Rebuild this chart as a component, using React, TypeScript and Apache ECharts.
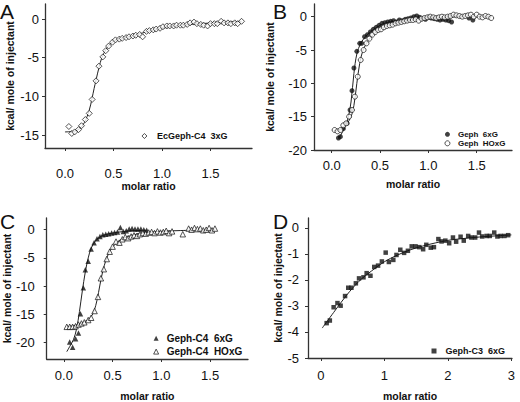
import React, { useEffect, useRef } from "react";
import * as echarts from "echarts";

// ---------- Panel A ----------
const aX = [0.04,0.07,0.10,0.14,0.17,0.21,0.25,0.28,0.32,0.35,0.39,0.42,0.45,0.49,0.52,0.56,0.59,0.63,0.66,0.70,0.73,0.77,0.80,0.84,0.87,0.91,0.94,0.98,1.01,1.05,1.08,1.12,1.15,1.19,1.22,1.26,1.29,1.33,1.36,1.40,1.43,1.47,1.50,1.54,1.57,1.61,1.64,1.68,1.71,1.75,1.78,1.82];
const aY = [-13.9,-14.8,-14.6,-14.3,-13.8,-13.0,-12.2,-10.4,-8.0,-6.1,-4.9,-4.1,-3.5,-3.0,-2.7,-2.6,-2.5,-2.4,-2.3,-2.2,-2.1,-2.0,-2.3,-1.6,-1.5,-1.4,-1.3,-1.2,-1.0,-0.9,-0.9,-0.9,-0.8,-0.8,-0.8,-0.7,-0.5,-0.4,-0.6,-0.7,-0.8,-0.9,-0.6,-0.6,-0.6,-0.3,-0.5,-0.5,-0.6,-0.5,-0.6,-0.3];
const aFitX = [0.0,0.1,0.15,0.2,0.25,0.28,0.3,0.32,0.35,0.38,0.42,0.46,0.5,0.55,0.6,0.7,0.8,1.0,1.2,1.4,1.6,1.82];
const aFitY = [-14.6,-14.5,-14.2,-13.4,-11.8,-10.2,-9.0,-7.9,-6.3,-5.0,-4.0,-3.3,-2.9,-2.6,-2.45,-2.2,-1.8,-1.2,-0.8,-0.6,-0.45,-0.3];

// ---------- Panel B ----------
const b1X = [0.07,0.09,0.12,0.16,0.19,0.21,0.23,0.26,0.29,0.31,0.34,0.37,0.40,0.43,0.46,0.49,0.52,0.55,0.58,0.61,0.64,0.67,0.70,0.73,0.76,0.79,0.82,0.85,0.88,0.91,0.94,0.97,1.00,1.03,1.06,1.09,1.12,1.15,1.18,1.21,1.24,1.42,1.46];
const b1Y = [-18.2,-18.0,-16.8,-16.0,-14.0,-11.1,-7.7,-5.2,-4.0,-4.0,-3.0,-2.7,-2.3,-1.9,-1.6,-1.3,-1.0,-0.9,-0.8,-0.7,-0.6,-0.8,-0.5,-0.6,-0.4,-0.3,-0.2,0.0,0.1,-0.1,-0.3,-0.4,-0.1,-0.2,-0.3,-0.4,-0.5,-0.4,-0.5,-0.6,-0.8,-0.2,-0.5];
const b2X = [0.03,0.06,0.09,0.12,0.15,0.18,0.21,0.24,0.27,0.30,0.33,0.36,0.39,0.42,0.45,0.48,0.51,0.54,0.57,0.60,0.63,0.66,0.69,0.72,0.75,0.78,0.81,0.84,0.87,0.90,0.93,0.96,0.99,1.02,1.05,1.08,1.11,1.14,1.17,1.20,1.23,1.26,1.29,1.32,1.35,1.38,1.41,1.44,1.47,1.50,1.53,1.56,1.59,1.62,1.65];
const b2Y = [-17.0,-17.2,-17.0,-16.3,-16.0,-15.0,-14.0,-12.0,-9.0,-6.5,-5.0,-4.0,-3.3,-2.7,-2.3,-2.0,-1.9,-1.6,-1.4,-1.3,-1.2,-1.0,-0.9,-0.8,-0.7,-0.6,-0.5,-0.5,-0.4,-0.6,-0.3,-0.2,-0.1,0.0,-0.1,-0.2,-0.1,0.0,-0.1,0.0,0.1,0.3,0.2,0.1,0.0,0.1,0.2,0.3,0.0,0.3,0.0,-0.1,0.1,0.0,-0.2];
const b1FitX = [0.07,0.10,0.14,0.17,0.20,0.23,0.26,0.30,0.35,0.40,0.50,0.60,0.80,1.00,1.25];
const b1FitY = [-18.3,-17.6,-16.5,-15.2,-12.8,-8.5,-5.6,-4.0,-3.0,-2.3,-1.3,-0.8,-0.4,-0.2,-0.1];
const b2FitX = [0.03,0.10,0.15,0.20,0.23,0.26,0.29,0.32,0.36,0.42,0.50,0.60,0.80,1.00,1.30,1.65];
const b2FitY = [-17.1,-16.8,-16.2,-15.0,-13.3,-10.0,-7.0,-5.2,-4.0,-2.8,-1.9,-1.3,-0.6,-0.2,0.0,0.05];

// ---------- Panel C ----------
const c1X = [0.06,0.09,0.12,0.15,0.17,0.20,0.22,0.25,0.28,0.31,0.34,0.37,0.40,0.43,0.46,0.49,0.52,0.55,0.58,0.61,0.64,0.67,0.70,0.73,0.76,0.79,0.82,0.85];
const c1Y = [-19.9,-20.8,-19.3,-18.3,-14.9,-10.3,-7.1,-5.6,-3.4,-2.3,-1.6,-1.2,-0.9,-0.8,-0.7,-0.6,-0.5,-0.4,0.4,-0.3,-0.2,0.1,0.2,0.1,0.1,0.1,0.0,-0.1];
const c2X = [0.03,0.06,0.09,0.12,0.15,0.18,0.21,0.25,0.28,0.315,0.35,0.38,0.41,0.44,0.47,0.50,0.535,0.57,0.60,0.63,0.66,0.69,0.72,0.75,0.78,0.81,0.84,0.87,0.90,0.93,0.96,0.99,1.02,1.05,1.08,1.11,1.22,1.28,1.31,1.34,1.37,1.40,1.43,1.46,1.49,1.52,1.55];
const c2Y = [-17.2,-17.2,-17.2,-17.1,-16.8,-16.6,-16.4,-16.0,-15.6,-14.4,-11.9,-8.6,-7.0,-5.2,-3.9,-3.0,-2.1,-2.3,-1.7,-1.3,-1.5,-1.2,-1.0,-1.1,-0.8,-0.6,-0.7,-0.5,-0.4,-0.6,-0.3,-0.5,-0.4,-0.2,-0.6,-0.3,-0.8,0.2,0.0,0.3,0.1,0.2,-0.1,0.0,0.3,-0.1,0.2];
const c1FitX = [0.03,0.06,0.10,0.13,0.16,0.19,0.22,0.25,0.28,0.32,0.36,0.42,0.50,0.60,0.70,0.85];
const c1FitY = [-21.6,-20.7,-19.4,-17.6,-14.5,-10.8,-7.5,-5.0,-3.3,-2.1,-1.4,-0.9,-0.6,-0.35,-0.2,-0.1];
const c2FitX = [0.03,0.10,0.15,0.20,0.25,0.28,0.31,0.34,0.37,0.40,0.43,0.46,0.50,0.55,0.60,0.70,0.80,1.00,1.20,1.55];
const c2FitY = [-17.2,-17.0,-16.8,-16.4,-15.9,-15.4,-14.4,-12.5,-9.8,-7.3,-5.5,-4.2,-3.1,-2.2,-1.6,-1.0,-0.6,-0.3,-0.15,-0.05];

// ---------- Panel D ----------
const dX = [0.09,0.14,0.20,0.26,0.31,0.38,0.43,0.48,0.55,0.60,0.67,0.72,0.78,0.84,0.90,0.96,1.02,1.07,1.14,1.19,1.25,1.31,1.37,1.43,1.49,1.55,1.61,1.66,1.73,1.78,1.85,1.90,1.96,2.02,2.08,2.13,2.20,2.25,2.32,2.37,2.43,2.49,2.54,2.61,2.66,2.73,2.78,2.83,2.89,2.95];
const dY = [-3.66,-3.56,-3.05,-2.89,-2.99,-2.62,-2.30,-2.30,-2.13,-1.94,-1.90,-1.74,-1.84,-1.50,-1.45,-1.29,-0.95,-1.31,-1.23,-1.04,-0.84,-0.96,-0.88,-0.71,-0.71,-0.74,-0.82,-0.65,-0.76,-0.74,-0.43,-0.52,-0.49,-0.59,-0.37,-0.53,-0.34,-0.49,-0.31,-0.37,-0.37,-0.18,-0.33,-0.31,-0.31,-0.18,-0.33,-0.31,-0.31,-0.28];
const dFitX = [0.02,0.2,0.4,0.6,0.8,1.0,1.2,1.4,1.6,1.8,2.0,2.2,2.5,2.8,3.0];
const dFitY = [-3.85,-3.25,-2.6,-2.05,-1.65,-1.3,-1.05,-0.85,-0.7,-0.58,-0.48,-0.42,-0.35,-0.3,-0.27];

// ---------- Ticks & labels ----------
const xTicksABC = [0, 0.5, 1, 1.5];
const xTicksD = [0, 1, 2, 3];
const yTicksA = [0, -5, -10, -15];
const yTicksBC = [0, -5, -10, -15, -20];
const yTicksD = [0, -1, -2, -3, -4, -5];
const panelLetters = ["A", "B", "C", "D"];
const xName = "molar ratio";
const yName = "kcal/ mole of injectant";
const namesA = ["EcGeph-C4  3xG"];
const namesB = ["Geph  6xG", "Geph  HOxG"];
const namesC = ["Geph-C4  6xG", "Geph-C4  HOxG"];
const namesD = ["Geph-C3  6xG"];

const FONT = "'Liberation Sans', Arial, Helvetica, sans-serif";
const INK = "#111";

const zip = (xs: number[], ys: number[]) => xs.map((x, i) => [x, ys[i]]);

function xAx(gridIndex: number, min: number, max: number, ticks: number[], dec: number, margin: number, nameGap: number) {
  return {
    type: "value", gridIndex, min, max,
    name: xName, nameLocation: "middle", nameGap,
    nameTextStyle: { fontWeight: "bold", fontSize: 10.5, color: INK, fontFamily: FONT },
    axisLine: { show: true, onZero: false, lineStyle: { color: "#333", width: 1.3 } },
    axisTick: { show: true, length: 3, customValues: ticks, lineStyle: { color: "#333" } },
    axisLabel: { customValues: ticks, formatter: (v: number) => v.toFixed(dec), margin, fontSize: 13, color: INK, fontFamily: FONT },
    splitLine: { show: false },
  };
}
function yAx(gridIndex: number, min: number, max: number, ticks: number[], margin: number, nameGap: number) {
  return {
    type: "value", gridIndex, min, max,
    name: yName, nameLocation: "middle", nameGap,
    nameTextStyle: { fontWeight: "bold", fontSize: 10.5, color: INK, fontFamily: FONT },
    axisLine: { show: true, onZero: false, lineStyle: { color: "#333", width: 1.3 } },
    axisTick: { show: true, length: 3, customValues: ticks, lineStyle: { color: "#333" } },
    axisLabel: { customValues: ticks, formatter: (v: number) => String(v), margin, fontSize: 13, color: INK, fontFamily: FONT },
    splitLine: { show: false },
  };
}
function fit(idx: number, xs: number[], ys: number[]) {
  return {
    type: "line", xAxisIndex: idx, yAxisIndex: idx, data: zip(xs, ys),
    showSymbol: false, symbol: "none", smooth: 0.35, silent: true,
    lineStyle: { color: "#222", width: 1 }, z: 2,
  };
}
function pts(idx: number, name: string, xs: number[], ys: number[], symbol: string, size: number, open: boolean) {
  return {
    type: "scatter", name, xAxisIndex: idx, yAxisIndex: idx, data: zip(xs, ys),
    symbol, symbolSize: size, z: 3,
    itemStyle: open ? { color: "#fff", borderColor: INK, borderWidth: 0.9 } : { color: INK, borderWidth: 0 },
  };
}
// legend entries: [name, symbol, open]
function leg(entries: [string, string, boolean][], left: number, top: number, fontSize: number, lineHeight: number, itemGap: number, pad: number) {
  return {
    data: entries.map(([name, icon, open]) => ({
      name, icon,
      itemStyle: open ? { color: "#fff", borderColor: INK, borderWidth: 0.9 } : { color: INK, borderWidth: 0 },
    })),
    left, top, orient: "vertical", itemWidth: 5, itemHeight: 5, itemGap, padding: 0,
    selectedMode: false,
    textStyle: { fontSize, fontWeight: "bold", color: INK, fontFamily: FONT, lineHeight, padding: [0, 0, 0, pad] },
  };
}

export default function App() {
  const ref = useRef<HTMLDivElement>(null);
  useEffect(() => {
    if (!ref.current) return;
    const chart = echarts.init(ref.current, null, { renderer: "svg" });
    const letterPos = [[0, 1], [273, 1], [0, 211], [273, 211]];
    chart.setOption({
      animation: false,
      backgroundColor: "#fff",
      title: panelLetters.map((t, i) => ({
        text: t, left: letterPos[i][0], top: letterPos[i][1], padding: 0,
        textStyle: { fontSize: 21, fontWeight: "normal", color: INK, fontFamily: FONT },
      })),
      grid: [
        { left: 45, top: 4, width: 207, height: 144 },
        { left: 314, top: 4, width: 198, height: 146 },
        { left: 45, top: 218, width: 203, height: 145 },
        { left: 308, top: 218, width: 204, height: 146 },
      ],
      xAxis: [
        xAx(0, -0.206, 1.928, xTicksABC, 1, 19, 30),
        xAx(1, -0.183, 1.865, xTicksABC, 1, 9, 28),
        xAx(2, -0.176, 1.889, xTicksABC, 1, 10, 31),
        xAx(3, -0.204, 3.01, xTicksD, 0, 11, 32),
      ],
      yAxis: [
        yAx(0, -16.68, 1.94, yTicksA, 6, 30),
        yAx(1, -20, 1.9, yTicksBC, 7, 39),
        yAx(2, -22.9, 2.07, yTicksBC, 12, 30),
        yAx(3, -5, 0.38, yTicksD, 9, 25),
      ],
      legend: [
        leg([[namesA[0], "diamond", true]], 141.5, 130.5, 9, 11, 0, 5),
        leg([[namesB[0], "circle", false], [namesB[1], "circle", true]], 444.5, 129.8, 8, 9, 0, 3),
        leg([[namesC[0], "triangle", false], [namesC[1], "triangle", true]], 153.2, 332.8, 10, 11, 2.3, 3),
        leg([[namesD[0], "rect", false]], 431.5, 345.5, 9, 11, 0, 4),
      ],
      series: [
        fit(0, aFitX, aFitY),
        pts(0, namesA[0], aX, aY, "diamond", 6, true),
        fit(1, b1FitX, b1FitY),
        fit(1, b2FitX, b2FitY),
        pts(1, namesB[0], b1X, b1Y, "circle", 5, false),
        pts(1, namesB[1], b2X, b2Y, "circle", 5, true),
        fit(2, c1FitX, c1FitY),
        fit(2, c2FitX, c2FitY),
        pts(2, namesC[0], c1X, c1Y, "triangle", 5.5, false),
        pts(2, namesC[1], c2X, c2Y, "triangle", 5.5, true),
        fit(3, dFitX, dFitY),
        pts(3, namesD[0], dX, dY, "rect", 4.5, false),
      ],
    });
    return () => chart.dispose();
  }, []);
  return <div ref={ref} style={{ position: "fixed", left: 0, top: 0, width: 520, height: 402 }} />;
}
